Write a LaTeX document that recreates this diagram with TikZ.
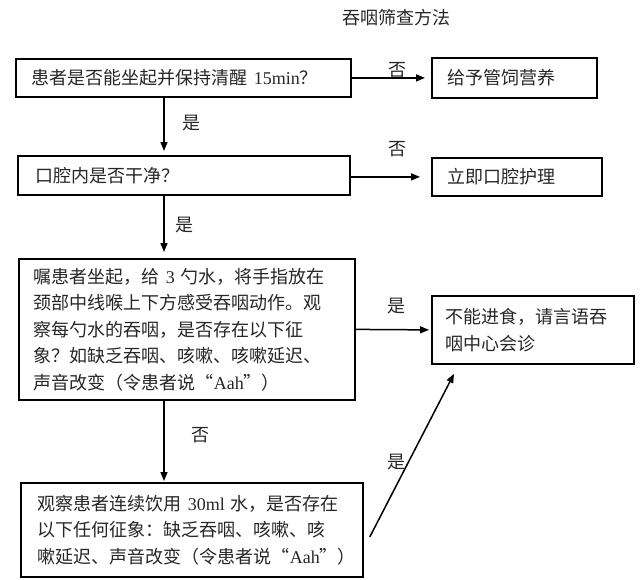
\documentclass[tikz,border=0pt]{standalone}
\usepackage{fontspec}
\setmainfont{Noto Sans CJK SC}
\newfontfamily\lat{Liberation Serif}
\usetikzlibrary{arrows.meta}
\begin{document}
\begin{tikzpicture}[x=1pt,y=-1pt,
  every node/.style={font=\fontsize{18pt}{26.5pt}\selectfont, text=black!85},
  bx/.style={draw, line width=1.8pt, anchor=north west, inner ysep=0pt, align=left},
  arr/.style={line width=1.5pt, -{Triangle[length=9pt,width=7pt]}},
  lbl/.style={inner sep=0pt}]
\useasboundingbox (0,0) rectangle (640,579);
\node[lbl] (title) at (396,18) {吞咽筛查方法};
% boxes
\node[bx, minimum height=38pt, text width=303pt, inner xsep=16pt] (B1) at (15,58) {患者是否能坐起并保持清醒{\lat\ 15min}？};
\node[bx, minimum height=40pt, text width=133pt, inner xsep=16pt] (N1) at (431,57) {给予管饲营养};
\node[bx, minimum height=39pt, text width=296pt, inner xsep=18pt] (B2) at (17,155) {口腔内是否干净？};
\node[bx, minimum height=38pt, text width=138pt, inner xsep=16pt] (N2) at (431,157) {立即口腔护理};
\node[bx, minimum height=141pt, text width=306pt, inner xsep=15pt] (B3) at (18,258) {嘱患者坐起，给{\lat\ 3\ }勺水，将手指放在\\颈部中线喉上下方感受吞咽动作。观\\察每勺水的吞咽，是否存在以下征\\象？如缺乏吞咽、咳嗽、咳嗽延迟、\\声音改变（令患者说“{\lat Aah}”）};
\node[bx, minimum height=68pt, text width=174pt, inner xsep=14pt] (N3) at (431,295) {不能进食，请言语吞\\咽中心会诊};
\node[bx, minimum height=94pt, text width=308pt, inner xsep=17pt] (B5) at (20,482) {观察患者连续饮用{\lat\ 30ml\ }水，是否存在\\以下任何征象：缺乏吞咽、咳嗽、咳\\嗽延迟、声音改变（令患者说“{\lat Aah}”）};
% labels
\node[lbl] (l1) at (397,70) {否};
\node[lbl] (l2) at (397,149) {否};
\node[lbl] (l3) at (396,306) {是};
\node[lbl] (l4) at (396,462) {是};
\node[lbl] (l5) at (191,123) {是};
\node[lbl] (l6) at (184,225) {是};
\node[lbl] (l7) at (200,435) {否};
% connectors
\coordinate (col) at (164,0);
\draw[arr, shorten >=6pt] (B1.east) -- (N1.west);
\draw[arr, shorten >=11pt] (B2.east |- N2.west) -- (N2.west);
\draw[arr, shorten >=2pt] (B3.east) -- (N3.west);
\draw[arr, shorten >=4pt] (B1.south -| col) -- (B2.north -| col);
\draw[arr, shorten >=6pt] (B2.south -| col) -- (B3.north -| col);
\draw[arr, shorten >=1pt] (B3.south -| col) -- (B5.north -| col);
\draw[arr] ([shift={(6,7)}]B5.east) -- ([shift={(23,9)}]N3.south west);
\end{tikzpicture}
\end{document}
